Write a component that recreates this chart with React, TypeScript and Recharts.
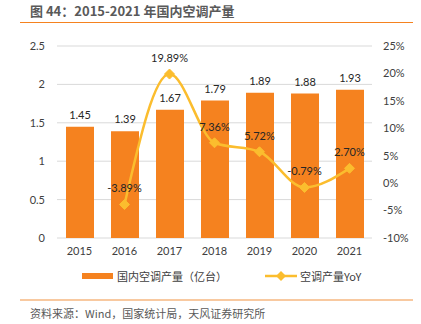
import React from "react";
import { Bar, CartesianGrid, ComposedChart, LabelList, Line, XAxis, YAxis } from "recharts";

const years = ["2015", "2016", "2017", "2018", "2019", "2020", "2021"];
const output = [1.45, 1.39, 1.67, 1.79, 1.89, 1.88, 1.93];
const yoy = [null, -3.89, 19.89, 7.36, 5.72, -0.79, 2.7];
const leftTicks = [0, 0.5, 1, 1.5, 2, 2.5];
const rightTicks = [-10, -5, 0, 5, 10, 15, 20, 25];

const BAR_COLOR = "#F5821F";
const LINE_COLOR = "#FBBD2E";
const FONT = "Lato, 'Noto Sans CJK SC', sans-serif";
const CJK = "'Noto Sans CJK SC', sans-serif";

const data = years.map((y, i) => ({ year: y, output: output[i], yoy: yoy[i] }));

function Diamond(props: any) {
  const { cx, cy } = props;
  if (cx == null || cy == null || props.value == null) return null;
  const r = 5;
  return (
    <polygon
      points={`${cx},${cy - r} ${cx + r},${cy} ${cx},${cy + r} ${cx - r},${cy}`}
      fill={LINE_COLOR}
      stroke={LINE_COLOR}
    />
  );
}

export default function App() {
  return (
    <div style={{ position: "absolute", left: 0, top: 0, width: 421, height: 324, background: "#fff", overflow: "hidden" }}>
      <div style={{ position: "absolute", left: 30, top: 2, fontFamily: CJK, fontSize: 13, fontWeight: 700, color: "#595959", lineHeight: "18px" }}>
        图 44：2015-2021 年国内空调产量
      </div>
      <div style={{ position: "absolute", left: 20, top: 22, width: 393, height: 1, background: BAR_COLOR }} />

      <div style={{ position: "absolute", left: 0, top: 0 }}>
        <ComposedChart width={421} height={324} data={data} margin={{ top: 46, right: 0, bottom: 56, left: 0 }}>
          <CartesianGrid vertical={false} stroke="#d9d9d9" yAxisId="left" />
          <XAxis
            dataKey="year"
            axisLine={false}
            tickLine={false}
            height={30}
            tickMargin={3}
            tick={{ fill: "#404040", fontSize: 11, fontFamily: FONT }}
          />
          <YAxis
            yAxisId="left"
            domain={[0, 2.5]}
            ticks={leftTicks}
            width={57}
            axisLine={false}
            tickLine={false}
            tickMargin={6}
            tick={{ fill: "#404040", fontSize: 11, fontFamily: FONT }}
          />
          <YAxis
            yAxisId="right"
            orientation="right"
            domain={[-10, 25]}
            ticks={rightTicks}
            width={49}
            axisLine={false}
            tickLine={false}
            tickMargin={5}
            tickFormatter={(v: number) => `${v}%`}
            tick={{ fill: "#404040", fontSize: 11, fontFamily: FONT }}
          />
          <Bar yAxisId="left" dataKey="output" fill={BAR_COLOR} barSize={28} isAnimationActive={false}>
            <LabelList dataKey="output" position="top" offset={8} fill="#262626" fontSize={11} fontFamily={FONT} />
          </Bar>
          <Line
            yAxisId="right"
            dataKey="yoy"
            type="monotone"
            stroke={LINE_COLOR}
            strokeWidth={2.5}
            dot={<Diamond />}
            activeDot={false}
            connectNulls
            isAnimationActive={false}
          >
            <LabelList
              dataKey="yoy"
              position="top"
              offset={12}
              fill="#262626"
              fontSize={11}
              fontFamily={FONT}
              formatter={(v: any) => (v == null ? "" : `${Number(v).toFixed(2)}%`)}
            />
          </Line>
        </ComposedChart>
      </div>

      <div style={{ position: "absolute", left: 82, top: 273, width: 31, height: 6, background: BAR_COLOR }} />
      <div style={{ position: "absolute", left: 117, top: 267, fontFamily: CJK, fontSize: 11, color: "#404040", lineHeight: "18px" }}>
        国内空调产量（亿台）
      </div>
      <svg style={{ position: "absolute", left: 264, top: 270 }} width={34} height={12}>
        <line x1={1} y1={6} x2={33} y2={6} stroke={LINE_COLOR} strokeWidth={2.5} />
        <polygon points="17,1 22,6 17,11 12,6" fill={LINE_COLOR} />
      </svg>
      <div style={{ position: "absolute", left: 300, top: 267, fontFamily: CJK, fontSize: 11, color: "#404040", lineHeight: "18px" }}>
        空调产量YoY
      </div>

      <div style={{ position: "absolute", left: 20, top: 299, width: 393, height: 2, background: "#F8C9A0" }} />
      <div style={{ position: "absolute", left: 30, top: 304, fontFamily: CJK, fontSize: 11, color: "#595959", lineHeight: "18px" }}>
        资料来源：Wind，国家统计局，天风证券研究所
      </div>
    </div>
  );
}
